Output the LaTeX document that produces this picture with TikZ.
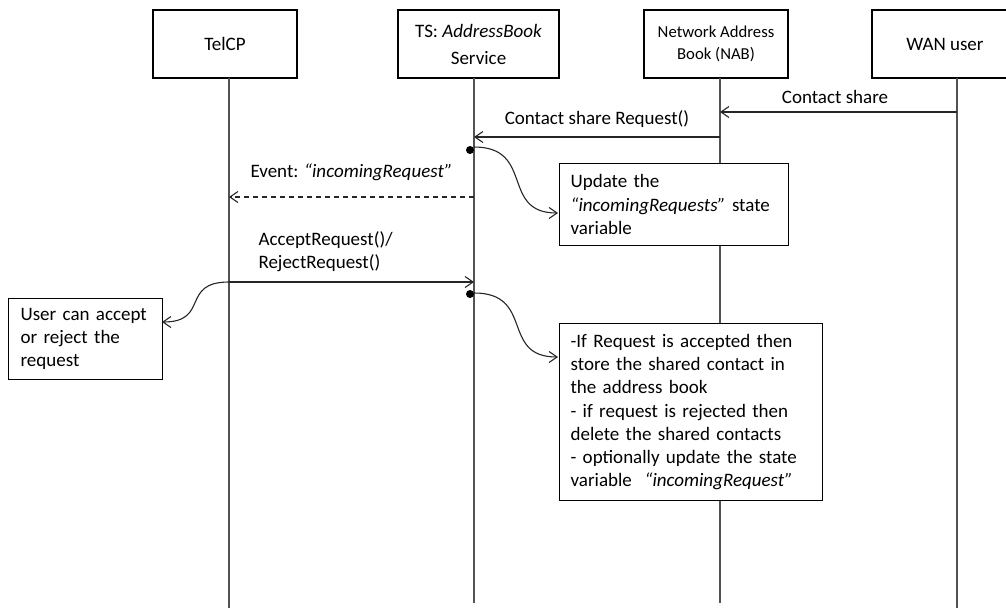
\documentclass[tikz,border=0pt]{standalone}
\usepackage{fontspec}
\setmainfont{Carlito}
\usetikzlibrary{arrows.meta}
\begin{document}
\begin{tikzpicture}[x=1pt,y=-1pt,
  every node/.style={font=\fontsize{19}{23.3}\selectfont},
  actor/.style={draw=black, line width=1.2pt, fill=white, minimum width=144pt,
    minimum height=68pt, inner sep=0pt, align=center},
  lifeline/.style={draw=black!68, line width=1.6pt},
  msg/.style={draw=black!85, line width=1.1pt,
    -{Straight Barb[length=8pt,width=11pt,line width=1.1pt]}},
  reply/.style={msg, dash pattern=on 5pt off 4pt},
  notebox/.style={draw=black, line width=1.2pt, fill=white, align=left,
    inner xsep=11pt, inner ysep=0pt},
  linkcurve/.style={draw=black!85, line width=1.1pt,
    -{Straight Barb[length=8pt,width=11pt,line width=1.1pt]}},
  activation/.style={fill=black, circle, inner sep=0pt, minimum size=8pt}
]
\useasboundingbox (0,0) rectangle (1006,608);
\clip (0,0) rectangle (1006,608);

% participants
\node[actor] (telcp) at (225,44) {TelCP};
\node[actor, minimum width=161pt, font=\fontsize{19}{27}\selectfont]
  (ts) at (478.5,44) {TS: \textit{AddressBook}\\Service};
\node[actor, font=\fontsize{16.7}{22}\selectfont]
  (nab) at (716,44) {Network Address\\Book (NAB)};
\node[actor, minimum width=146pt] (wan) at (945,44) {WAN user};

% lifeline ends
\coordinate (telcpEnd) at (229,608);
\coordinate (tsEnd) at (474,603);
\coordinate (nabEnd) at (720,603);
\coordinate (wanEnd) at (957,608);
\coordinate (telcpTop) at (229,78);
\coordinate (tsTop) at (474,78);
\coordinate (nabTop) at (720,78);
\coordinate (wanTop) at (957,78);

\draw[lifeline] (telcpTop) -- (telcpEnd);
\draw[lifeline] (tsTop) -- (tsEnd);
\draw[lifeline] (nabTop) -- (nabEnd);
\draw[lifeline] (wanTop) -- (wanEnd);

% notes
\node[notebox, text width=207pt, minimum height=82pt, anchor=north west]
  (update) at (559,163)
  {Update the\\\textit{“incomingRequests”} state\\variable};
\node[notebox, text width=241pt, minimum height=177pt, anchor=north west]
  (result) at (559,323)
  {-If Request is accepted then\\store the shared contact in\\the address book\\- if request is rejected then\\delete the shared contacts\\- optionally update the state\\variable \ \textit{“incomingRequest”}};
\node[notebox, inner xsep=12pt, text width=130pt, minimum height=81pt, anchor=north west]
  (user) at (8,298)
  {User can accept\\or reject the\\request};

% message anchor points on the lifelines
\coordinate (m1s) at (957,112);
\coordinate (m1e) at (720,112);
\coordinate (m2s) at (720,137);
\coordinate (m2e) at (474,137);
\coordinate (m3s) at (474,197);
\coordinate (m3e) at (229,197);
\coordinate (m4s) at (229,282);
\coordinate (m4e) at (474,282);

\draw[msg] (m1s) -- (m1e);
\node (l1) at (835,97) {Contact share};
\draw[msg] (m2s) -- (m2e);
\node (l2) at (597,119) {Contact share Request()};
\draw[reply] (m3s) -- (m3e);
\node[anchor=west] (l3) at (247,172) {Event: \textit{“incomingRequest”}};
\draw[msg] (m4s) -- (m4e);
\node[anchor=west, align=left] (l4) at (255,251.5) {AcceptRequest()/\\RejectRequest()};

% activation dots and their links to the notes
\node[activation] (dot1) at (470,150) {};
\node[activation] (dot2) at (470,294) {};
\coordinate (d1) at (474,147);
\coordinate (d2) at (474,293);
\coordinate (updIn) at (558,213);
\coordinate (resIn) at (558,357);
\coordinate (userIn) at (162,322);

\draw[linkcurve] (d1) .. controls (535,147) and (500,213) .. (updIn);
\draw[linkcurve] (d2) .. controls (535,293) and (500,357) .. (resIn);
\draw[linkcurve] (m4s) .. controls (180,282) and (210,322) .. (userIn);
\end{tikzpicture}
\end{document}
